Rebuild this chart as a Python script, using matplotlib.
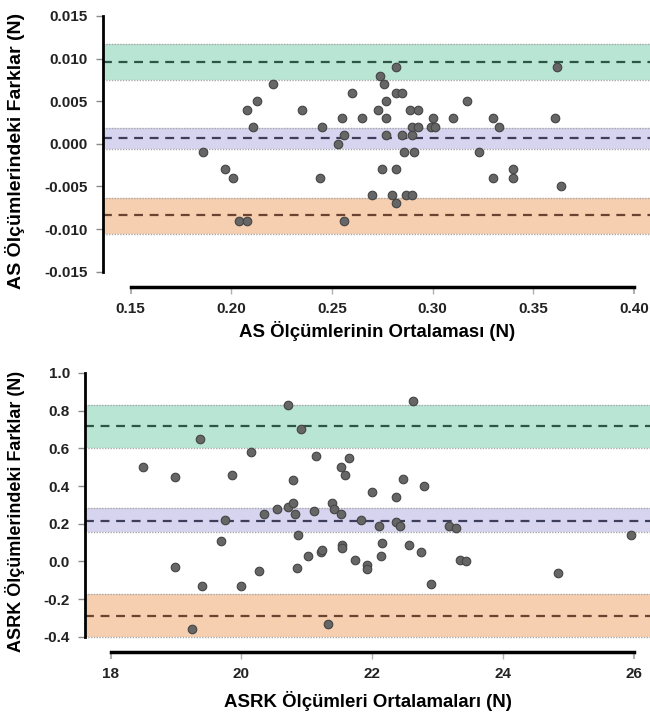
import matplotlib
matplotlib.use("Agg")
import matplotlib.pyplot as plt
import numpy as np

plt.rcParams['font.family'] = ['Liberation Sans', 'DejaVu Sans']

# Datos gráfica superior (AS)
as_mean = [0.186, 0.197, 0.201, 0.208, 0.211, 0.213, 0.221, 0.235, 0.244, 0.245,
           0.253, 0.255, 0.256, 0.260, 0.265, 0.273, 0.274, 0.276, 0.277, 0.277,
           0.277, 0.275, 0.282, 0.282, 0.285, 0.282, 0.285, 0.289, 0.293, 0.286,
           0.291, 0.290, 0.293, 0.290, 0.300, 0.299, 0.301, 0.310, 0.317, 0.323,
           0.330, 0.333, 0.340, 0.361, 0.362, 0.330, 0.340, 0.364, 0.270, 0.280,
           0.282, 0.287, 0.290, 0.204, 0.208, 0.256]
as_diff = [-0.001, -0.003, -0.004, 0.004, 0.002, 0.005, 0.007, 0.004, -0.004, 0.002,
           0.000, 0.003, 0.001, 0.006, 0.003, 0.004, 0.008, 0.007, 0.005, 0.003,
           0.001, -0.003, 0.009, 0.006, 0.006, -0.003, 0.001, 0.004, 0.004, -0.001,
           -0.001, 0.002, 0.002, 0.001, 0.003, 0.002, 0.002, 0.003, 0.005, -0.001,
           0.003, 0.002, -0.003, 0.003, 0.009, -0.004, -0.004, -0.005, -0.006, -0.006,
           -0.007, -0.006, -0.006, -0.009, -0.009, -0.009]
as_bias = 0.0007
as_upper = 0.0096
as_lower = -0.0084
as_bias_ci = (-0.0006, 0.0019)
as_upper_ci = (0.0075, 0.0117)
as_lower_ci = (-0.0106, -0.0064)

# Datos gráfica inferior (ASRK)
asrk_mean = [18.49, 18.98, 19.37, 19.75, 19.86, 20.15, 20.35, 20.55, 20.71, 20.72,
             20.79, 20.79, 20.82, 20.91, 20.87, 21.11, 21.14, 21.38, 21.41, 21.52,
             21.52, 21.59, 21.65, 21.83, 22.00, 22.11, 22.36, 22.36, 22.42, 22.47,
             22.62, 22.80, 23.17, 23.28, 25.96, 18.98, 19.39, 19.24, 19.69, 20.00,
             20.27, 20.85, 21.02, 21.22, 21.23, 21.54, 21.54, 21.33, 21.74, 21.92,
             21.92, 22.14, 22.15, 22.57, 22.75, 22.90, 23.35, 23.43, 24.84]
asrk_diff = [0.50, 0.45, 0.65, 0.22, 0.46, 0.58, 0.25, 0.28, 0.83, 0.29,
             0.43, 0.31, 0.25, 0.70, 0.14, 0.27, 0.56, 0.31, 0.28, 0.25,
             0.50, 0.46, 0.55, 0.22, 0.37, 0.19, 0.34, 0.21, 0.19, 0.44,
             0.85, 0.40, 0.19, 0.18, 0.14, -0.03, -0.13, -0.36, 0.11, -0.13,
             -0.05, -0.035, 0.03, 0.05, 0.06, 0.09, 0.07, -0.33, 0.01, -0.02,
             -0.04, 0.03, 0.10, 0.09, 0.05, -0.12, 0.01, 0.00, -0.06]
asrk_bias = 0.216
asrk_upper = 0.72
asrk_lower = -0.288
asrk_bias_ci = (0.156, 0.283)
asrk_upper_ci = (0.60, 0.83)
asrk_lower_ci = (-0.398, -0.171)

VERDE, MORADO, NARANJA = "#b9e5d5", "#d6d4ef", "#f6cfb0"
LINEA_V, LINEA_M, LINEA_N = "#2e5448", "#3d3d5c", "#6a4430"


def banda(ax, ci, centro, color, color_linea):
    ax.axhspan(ci[0], ci[1], color=color, lw=0, zorder=0)
    for v in ci:
        ax.axhline(v, color="#a8a8a8", ls=(0, (1, 1)), lw=1, zorder=1)
    ax.axhline(centro, color=color_linea, ls=(0, (4, 3)), lw=1.6, zorder=2)


def estilo(ax, xb, yb, xt, yt, fmt):
    for s in ["top", "right"]:
        ax.spines[s].set_visible(False)
    ax.spines["left"].set_linewidth(2)
    ax.spines["left"].set_bounds(*yb)
    ax.spines["bottom"].set_linewidth(2.5)
    ax.spines["bottom"].set_bounds(*xb)
    ax.set_xticks(xt)
    ax.set_yticks(yt)
    ax.set_yticklabels([fmt.format(v) for v in yt])
    ax.tick_params(axis="y", length=5, width=1, color="#8a8a8a", pad=6)
    ax.tick_params(axis="x", length=5, width=1, color="#b0b0b0", pad=6)
    ticks = ax.xaxis.get_major_ticks()
    for t in (ticks[0], ticks[-1]):
        t.tick1line.set_color("#111111")
        t.tick1line.set_markeredgewidth(1.5)
    for lab in ax.get_xticklabels() + ax.get_yticklabels():
        lab.set_fontweight("bold")
        lab.set_fontsize(11)
        lab.set_color("#222222")


fig = plt.figure(figsize=(6.5, 7.13), dpi=100)

# Gráfica superior
ax1 = fig.add_axes([0.159, 0.5975, 0.841, 0.3825])
banda(ax1, as_upper_ci, as_upper, VERDE, LINEA_V)
banda(ax1, as_bias_ci, as_bias, MORADO, LINEA_M)
banda(ax1, as_lower_ci, as_lower, NARANJA, LINEA_N)
ax1.scatter(as_mean, as_diff, s=38, color="#666666", edgecolor="#444444", lw=0.8, zorder=3)
ax1.set_xlim(0.1365, 0.408)
ax1.set_ylim(-0.0168, 0.0152)
ax1.set_xticks([0.15, 0.20, 0.25, 0.30, 0.35, 0.40])
ax1.set_xticklabels(["0.15", "0.20", "0.25", "0.30", "0.35", "0.40"])
estilo(ax1, (0.15, 0.40), (-0.015, 0.015),
       [0.15, 0.20, 0.25, 0.30, 0.35, 0.40],
       [0.015, 0.010, 0.005, 0.000, -0.005, -0.010, -0.015], "{:.3f}")
ax1.set_xlabel("AS Ölçümlerinin Ortalaması (N)", fontsize=13.4, fontweight="bold")
ax1.set_ylabel("AS Ölçümlerindeki Farklar (N)", fontsize=14, fontweight="bold")
ax1.xaxis.set_label_coords(0.5, -0.125)
ax1.yaxis.set_label_coords(-0.144, 0.5)

# Gráfica inferior
ax2 = fig.add_axes([0.131, 0.0856, 0.869, 0.394])
banda(ax2, asrk_upper_ci, asrk_upper, VERDE, LINEA_V)
banda(ax2, asrk_bias_ci, asrk_bias, MORADO, LINEA_M)
banda(ax2, asrk_lower_ci, asrk_lower, NARANJA, LINEA_N)
ax2.scatter(asrk_mean, asrk_diff, s=38, color="#666666", edgecolor="#444444", lw=0.8, zorder=3)
ax2.set_xlim(17.61, 26.25)
ax2.set_ylim(-0.48, 1.01)
estilo(ax2, (18, 26), (-0.4, 1.0), [18, 20, 22, 24, 26],
       [1.0, 0.8, 0.6, 0.4, 0.2, 0.0, -0.2, -0.4], "{:.1f}")
ax2.set_xlabel("ASRK Ölçümleri Ortalamaları (N)", fontsize=13.4, fontweight="bold")
ax2.set_ylabel("ASRK Ölçümlerindeki Farklar (N)", fontsize=13, fontweight="bold")
ax2.xaxis.set_label_coords(0.5, -0.14)
ax2.yaxis.set_label_coords(-0.106, 0.5)

fig.savefig("out.png", dpi=100)
